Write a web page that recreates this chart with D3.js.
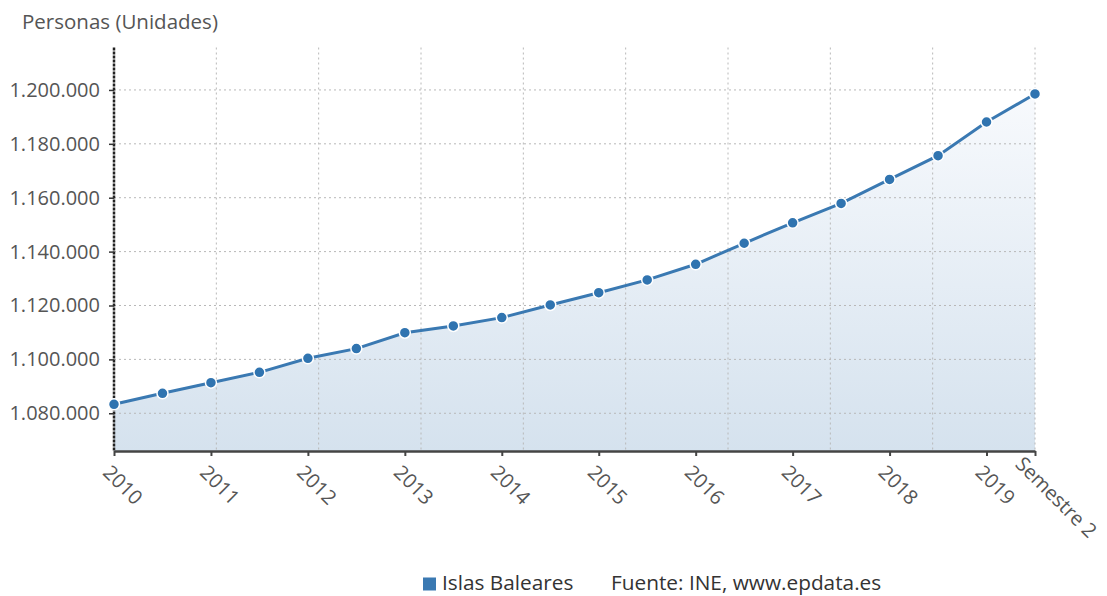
<!DOCTYPE html>
<html>
<head>
<meta charset="utf-8">
<script src="https://cdn.jsdelivr.net/npm/d3@7"></script>
<style>
  body { margin: 0; background: #fff; }
  #chart { width: 1107px; height: 596px; }
  text { font-family: "Open Sans", "Noto Sans", sans-serif; }
</style>
</head>
<body>
<div id="chart"></div>
<script>
// Población de Islas Baleares por semestre (Personas)

const periods = [
  "2010 S1", "2010 S2", "2011 S1", "2011 S2", "2012 S1", "2012 S2",
  "2013 S1", "2013 S2", "2014 S1", "2014 S2", "2015 S1", "2015 S2",
  "2016 S1", "2016 S2", "2017 S1", "2017 S2", "2018 S1", "2018 S2",
  "2019 S1", "2019 S2"
];
const tickLabels = [
  "2010", "", "2011", "", "2012", "", "2013", "", "2014", "",
  "2015", "", "2016", "", "2017", "", "2018", "", "2019", "Semestre 2"
];
const values = [
  1083340, 1087420, 1091360, 1095200, 1100400, 1104000,
  1109900, 1112400, 1115500, 1120200, 1124750, 1129500,
  1135300, 1143100, 1150700, 1157900, 1166800, 1175600,
  1188100, 1198500
];
const yTicks = [1080000, 1100000, 1120000, 1140000, 1160000, 1180000, 1200000];
const yDomain = [1066000, 1215750];
const gridDivisions = 9;

const seriesName = "Islas Baleares";
const sourceText = "Fuente: INE, www.epdata.es";
const yTitle = "Personas (Unidades)";

function renderChart() {
    const width = 1107, height = 596;
    const left = 114, right = 1035, top = 47.5, bottom = 451;

    const svg = d3.select("#chart")
        .append("svg")
        .attr("width", width)
        .attr("height", height);

    const data = periods.map((p, i) => ({ period: p, value: values[i], label: tickLabels[i] }));

    // Scales
    const x = d3.scalePoint()
        .domain(periods)
        .range([left, right]);

    const y = d3.scaleLinear()
        .domain(yDomain)
        .range([bottom, top]);

    const gridX = d3.scaleLinear()
        .domain([0, gridDivisions])
        .range([left, right]);

    // Gradient for the area
    const defs = svg.append("defs");
    const grad = defs.append("linearGradient")
        .attr("id", "areaFill")
        .attr("gradientUnits", "userSpaceOnUse")
        .attr("x1", 0).attr("y1", y(1200000))
        .attr("x2", 0).attr("y2", bottom);
    grad.append("stop").attr("offset", "0%").attr("stop-color", "#f8fafd");
    grad.append("stop").attr("offset", "100%").attr("stop-color", "#d5e2ee");

    // Area
    const area = d3.area()
        .x(d => x(d.period))
        .y0(bottom)
        .y1(d => y(d.value));

    svg.append("path")
        .datum(data)
        .attr("fill", "url(#areaFill)")
        .attr("d", area);

    // Horizontal grid
    svg.append("g")
        .selectAll("line")
        .data(yTicks)
        .enter()
        .append("line")
        .attr("x1", left)
        .attr("x2", right)
        .attr("y1", d => y(d))
        .attr("y2", d => y(d))
        .attr("stroke", "#b8b8b8")
        .attr("stroke-width", 1)
        .attr("stroke-dasharray", "2,3");

    // Vertical grid
    svg.append("g")
        .selectAll("line")
        .data(d3.range(1, gridDivisions + 1))
        .enter()
        .append("line")
        .attr("x1", d => gridX(d))
        .attr("x2", d => gridX(d))
        .attr("y1", top)
        .attr("y2", bottom)
        .attr("stroke", "#b8b8b8")
        .attr("stroke-width", 1)
        .attr("stroke-dasharray", "2,3");

    // Y axis
    const fmt = d3.formatLocale({ decimal: ",", thousands: ".", grouping: [3], currency: ["", "€"] }).format(",d");
    const yAxis = svg.append("g")
        .attr("transform", `translate(${left},0)`)
        .call(d3.axisLeft(y).tickValues(yTicks).tickFormat(fmt).tickSize(5).tickPadding(9).tickSizeOuter(0));
    yAxis.select(".domain")
        .attr("d", `M0,${top}V${bottom}`)
        .attr("stroke", "#222")
        .attr("stroke-width", 2.5)
        .attr("stroke-dasharray", "3,1");
    yAxis.selectAll(".tick line").attr("stroke", "#333").attr("stroke-width", 1.5);
    yAxis.selectAll(".tick text")
        .attr("fill", "#555")
        .attr("font-size", "20px")
        .attr("font-family", "'Open Sans', sans-serif");

    // X axis
    const labeled = data.filter(d => d.label !== "").map(d => d.period);
    const labelOf = p => tickLabels[periods.indexOf(p)];
    const lastPeriod = periods[periods.length - 1];
    const xAxis = svg.append("g")
        .attr("transform", `translate(0,${bottom})`)
        .call(d3.axisBottom(x).tickValues(labeled).tickFormat(labelOf).tickSize(5).tickSizeOuter(0));
    xAxis.select(".domain")
        .attr("stroke", "#444")
        .attr("stroke-width", 2.5);
    xAxis.selectAll(".tick line").attr("stroke", "#444").attr("stroke-width", 2);
    xAxis.selectAll(".tick text")
        .attr("fill", "#555")
        .attr("font-size", "20px")
        .attr("font-family", "'Open Sans', sans-serif")
        .attr("text-anchor", "start")
        .attr("dy", null)
        .attr("x", d => d === lastPeriod ? -5 : 7)
        .attr("y", 25)
        .attr("transform", "rotate(45)");

    // Line
    const line = d3.line()
        .x(d => x(d.period))
        .y(d => y(d.value));

    svg.append("path")
        .datum(data)
        .attr("fill", "none")
        .attr("stroke", "#3a79b2")
        .attr("stroke-width", 3)
        .attr("d", line);

    // Points
    svg.append("g")
        .selectAll("circle")
        .data(data)
        .enter()
        .append("circle")
        .attr("cx", d => x(d.period))
        .attr("cy", d => y(d.value))
        .attr("r", 5.5)
        .attr("fill", "#3074b0")
        .attr("stroke", "#fff")
        .attr("stroke-width", 1.5);

    // Y title
    svg.append("text")
        .attr("x", 22)
        .attr("y", 29)
        .attr("fill", "#555")
        .attr("font-size", "20.5px")
        .text(yTitle);

    // Legend
    svg.append("rect")
        .attr("x", 423)
        .attr("y", 577.5)
        .attr("width", 13)
        .attr("height", 13)
        .attr("fill", "#3a79b2");

    svg.append("text")
        .attr("x", 442)
        .attr("y", 589.5)
        .attr("fill", "#333")
        .attr("font-size", "20.8px")
        .text(seriesName);

    svg.append("text")
        .attr("x", 611)
        .attr("y", 589.5)
        .attr("fill", "#333")
        .attr("font-size", "20.8px")
        .text(sourceText);
}

renderChart();
</script>
</body>
</html>
